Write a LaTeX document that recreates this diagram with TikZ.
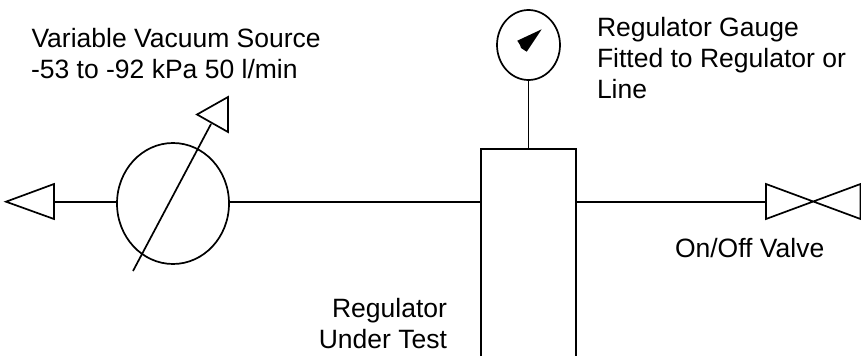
\documentclass[tikz,border=0pt]{standalone}
\usepackage{fontspec}
\setmainfont{Liberation Sans}
\usetikzlibrary{shapes.geometric}
\tikzset{
  ln/.style={draw=black,line width=1.7pt,line join=miter},
  oval/.style={ellipse,draw=black,line width=1.7pt,inner sep=0pt,outer sep=0pt,fill=none},
  lbl/.style={inner sep=0pt,outer sep=0pt,anchor=base west,font=\fontsize{26.5}{30}\selectfont},
  lblr/.style={inner sep=0pt,outer sep=0pt,anchor=base east,font=\fontsize{26.5}{30}\selectfont}
}
\begin{document}
\begin{tikzpicture}[x=1pt,y=-1pt]
\useasboundingbox (0,0) rectangle (861,356);
% named parts
\node[oval,minimum width=112pt,minimum height=121pt] (pump) at (173,203.5) {};
\node[oval,minimum width=63pt,minimum height=70pt] (gauge) at (528.5,45) {};
\coordinate (boxTL) at (481,149);
\coordinate (boxTR) at (576,149);
\coordinate (boxBL) at (481,356);
\coordinate (boxBR) at (576,356);
\coordinate (boxL) at (481,201.7);
\coordinate (boxR) at (576,201.7);
\coordinate (boxT) at (528.5,149);
\coordinate (pumpL) at (117,201.7);
\coordinate (pumpR) at (229,201.7);
\coordinate (exhB) at (54,201.7);
\coordinate (valveL) at (766,201.7);
\coordinate (arrS) at (133,271);
\coordinate (arrE) at (211,124);
% regulator body (open at the bottom)
\draw[ln] (boxBL) -- (boxTL) -- (boxTR) -- (boxBR);
% connectors
\draw[ln] (exhB) -- (pumpL);
\draw[ln] (pumpR) -- (boxL);
\draw[ln] (boxR) -- (valveL);
\draw[ln] (gauge.south) -- (boxT);
\draw[ln] (arrS) -- (arrE);
% triangles and valve
\draw[ln] (6,201.7) -- (54,184) -- (54,219) -- cycle;
\draw[ln] (197,114.5) -- (228,97) -- (228,132) -- cycle;
\draw[ln] (766,184) -- (860.5,219) -- (860.5,184) -- (766,219) -- cycle;
% gauge needle
\fill[black] (541.7,29.3) -- (517.3,40.7) -- (520,45) -- (521,48) -- (526.7,51.7) -- cycle;
% labels
\node[lbl] (t1) at (31.5,47.5) {Variable Vacuum Source};
\node[lbl] (t2) at (31,78.5) {-53 to -92 kPa 50 l/min};
\node[lbl] (t3) at (597,36.7) {Regulator Gauge};
\node[lbl] (t4) at (597,67.3) {Fitted to Regulator or};
\node[lbl] (t5) at (597,98) {Line};
\node[lbl] (t6) at (675,257.3) {On/Off Valve};
\node[lblr] (t7) at (447,317.7) {Regulator};
\node[lblr] (t8) at (447,348) {Under Test};
\end{tikzpicture}
\end{document}
